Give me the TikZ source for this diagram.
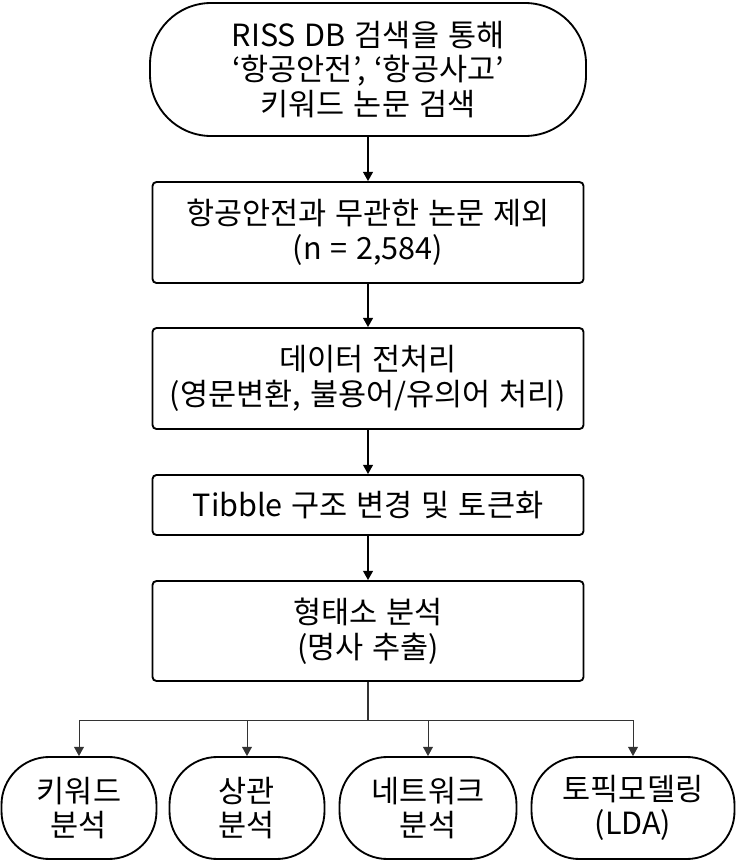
\documentclass[tikz,border=0pt]{standalone}
\usepackage{fontspec}
\setmainfont{Noto Sans CJK KR}[WordSpace=1.3]
\usetikzlibrary{arrows.meta}
\definecolor{boxline}{HTML}{000000}
\definecolor{branchgray}{HTML}{333333}
\tikzset{
  stepfont/.style={font=\fontsize{23pt}{26pt}\selectfont, align=center, text=black},
  startbox/.style={stepfont, draw=boxline, line width=1.4pt, rounded corners=46pt, inner sep=0pt, minimum width=11.536cm, minimum height=3.519cm},
  flowbox/.style={stepfont, draw=boxline, line width=1.4pt, rounded corners=3pt, inner sep=0pt, minimum width=11.404cm},
  leafbox/.style={stepfont, draw=boxline, line width=1.4pt, rounded corners=36pt, inner sep=0pt, minimum height=2.699cm},
  flow/.style={-{Triangle[length=7pt, width=7.5pt]}, draw=boxline, line width=1.1pt},
  branch/.style={-{Triangle[length=7pt, width=7.5pt]}, draw=branchgray, line width=0.7pt},
}
\begin{document}
\begin{tikzpicture}[x=1cm,y=1cm]
  \useasboundingbox (0,0) rectangle (19.473,-22.754);
  \node[startbox] (srch) at (9.737,-1.839) {RISS DB 검색을 통해\\‘항공안전’, ‘항공사고’\\키워드 논문 검색};
  \node[flowbox, minimum height=2.672cm] (excl) at (9.737,-6.152) {항공안전과 무관한 논문 제외\\(n = 2,584)};
  \node[flowbox, minimum height=2.672cm] (prep) at (9.737,-10.015) {데이터 전처리\\(영문변환, 불용어/유의어 처리)};
  \node[flowbox, minimum height=1.588cm] (tokn) at (9.737,-13.361) {Tibble 구조 변경 및 토큰화};
  \node[flowbox, minimum height=2.646cm] (morph) at (9.737,-16.695) {형태소 분석\\(명사 추출)};
  \coordinate (bus) at (9.737,-19.050);
  \node[leafbox, minimum width=4.101cm] (kw) at (2.090,-21.378) {키워드\\분석};
  \node[leafbox, minimum width=4.101cm] (corr) at (6.535,-21.378) {상관\\분석};
  \node[leafbox, minimum width=4.683cm] (net) at (11.324,-21.378) {네트워크\\분석};
  \node[leafbox, minimum width=5.371cm] (topic) at (16.748,-21.378) {토픽모델링\\(LDA)};
  \draw[flow] (srch) -- (excl);
  \draw[flow] (excl) -- (prep);
  \draw[flow] (prep) -- (tokn);
  \draw[flow] (tokn) -- (morph);
  \draw[draw=branchgray, line width=0.9pt] (morph.south) -- (bus);
  \draw[branch] (bus) -| (kw);
  \draw[branch] (bus) -| (corr);
  \draw[branch] (bus) -| (net);
  \draw[branch] (bus) -| (topic);
\end{tikzpicture}
\end{document}
